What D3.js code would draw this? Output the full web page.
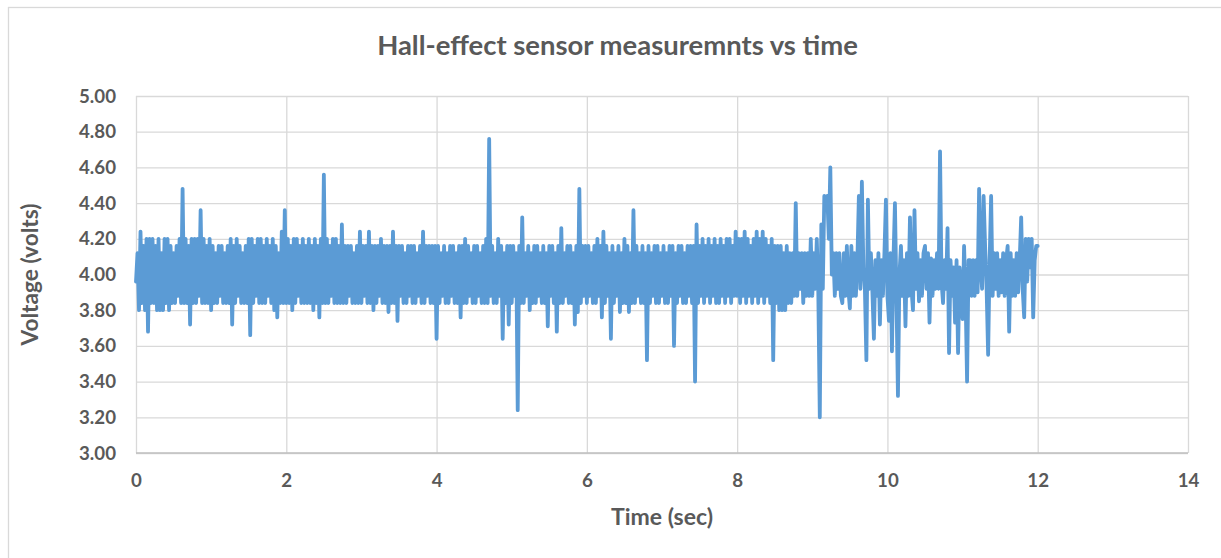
<!DOCTYPE html>
<html>
<head>
<meta charset="utf-8">
<script src="https://cdn.jsdelivr.net/npm/d3@7/dist/d3.min.js"></script>
<style>
  html, body { margin: 0; padding: 0; background: #ffffff; }
  svg { display: block; }
</style>
</head>
<body>
<script>
// ---------------- data ----------------
const chartTitle = "Hall-effect sensor measuremnts vs time";
const xAxisTitle = "Time (sec)";
const yAxisTitle = "Voltage (volts)";
const xTickValues = [0, 2, 4, 6, 8, 10, 12, 14];
const yTickValues = [3.00, 3.20, 3.40, 3.60, 3.80, 4.00, 4.20, 4.40, 4.60, 4.80, 5.00];
const sampleInterval = 0.02; // seconds between readings

// voltage readings, 0.00 s - 1.98 s
const volts0to2 = [
  3.96,4.12,3.80,4.24,3.84,4.16,3.80,4.20,3.68,4.20,
  3.84,4.20,3.84,4.16,3.80,4.20,3.80,4.12,3.80,4.20,
  3.84,4.20,3.80,4.16,3.84,4.12,3.84,4.16,3.88,4.20,
  3.84,4.48,3.84,4.20,3.84,4.16,3.72,4.20,3.84,4.20,
  3.84,4.20,3.88,4.36,3.84,4.20,3.84,4.16,3.84,4.20,
  3.80,4.16,3.84,4.12,3.84,4.16,3.88,4.16,3.84,4.12,
  3.84,4.16,3.84,4.20,3.72,4.16,3.84,4.20,3.88,4.16,
  3.84,4.12,3.84,4.16,3.84,4.20,3.66,4.20,3.84,4.16,
  3.88,4.20,3.84,4.20,3.84,4.16,3.84,4.20,3.88,4.16,
  3.84,4.20,3.80,4.16,3.76,4.12,3.84,4.24,3.84,4.36
];
// 2.00 s - 3.98 s
const volts2to4 = [
  3.84,4.20,3.84,4.16,3.80,4.20,3.84,4.20,3.88,4.16,
  3.84,4.20,3.84,4.16,3.84,4.20,3.84,4.16,3.80,4.20,
  3.84,4.16,3.76,4.20,3.84,4.56,3.84,4.20,3.84,4.16,
  3.88,4.20,3.84,4.20,3.84,4.16,3.84,4.28,3.84,4.16,
  3.84,4.16,3.88,4.16,3.84,4.12,3.84,4.16,3.84,4.24,
  3.84,4.16,3.88,4.16,3.84,4.24,3.84,4.16,3.80,4.16,
  3.84,4.16,3.88,4.20,3.84,4.16,3.84,4.16,3.79,4.16,
  3.84,4.24,3.84,4.16,3.74,4.16,3.88,4.16,3.84,4.12,
  3.84,4.16,3.88,4.16,3.84,4.16,3.84,4.12,3.88,4.16,
  3.84,4.24,3.84,4.16,3.88,4.16,3.84,4.16,3.84,4.16
];
// 4.00 s - 5.98 s
const volts4to6 = [
  3.64,4.16,3.84,4.12,3.88,4.16,3.84,4.12,3.84,4.16,
  3.88,4.16,3.84,4.12,3.84,4.16,3.76,4.16,3.84,4.20,
  3.84,4.16,3.88,4.12,3.84,4.16,3.84,4.16,3.88,4.12,
  3.84,4.16,3.84,4.20,3.84,4.76,3.88,4.16,3.84,4.12,
  3.84,4.20,3.88,4.16,3.64,4.12,3.84,4.16,3.72,4.16,
  3.84,4.16,3.88,4.12,3.24,4.16,3.84,4.32,3.84,4.12,
  3.88,4.16,3.80,4.12,3.84,4.16,3.84,4.16,3.88,4.12,
  3.84,4.16,3.84,4.12,3.71,4.16,3.88,4.16,3.84,4.12,
  3.68,4.16,3.84,4.26,3.84,4.12,3.88,4.16,3.84,4.16,
  3.84,4.12,3.72,4.16,3.79,4.48,3.84,4.16,3.88,4.16
];
// 6.00 s - 7.98 s
const volts6to8 = [
  3.84,4.16,3.88,4.12,3.84,4.16,3.84,4.20,3.88,4.16,
  3.76,4.24,3.84,4.16,3.88,4.12,3.64,4.16,3.84,4.12,
  3.88,4.16,3.79,4.12,3.84,4.20,3.84,4.16,3.79,4.12,
  3.84,4.36,3.84,4.16,3.88,4.12,3.84,4.16,3.84,4.12,
  3.52,4.16,3.84,4.12,3.88,4.16,3.84,4.16,3.84,4.12,
  3.88,4.16,3.84,4.12,3.84,4.16,3.88,4.16,3.60,4.12,
  3.84,4.16,3.88,4.16,3.84,4.12,3.84,4.16,3.88,4.16,
  3.84,4.16,3.40,4.28,3.84,4.16,3.88,4.20,3.84,4.16,
  3.88,4.20,3.84,4.16,3.88,4.20,3.84,4.16,3.84,4.20,
  3.88,4.16,3.84,4.20,3.88,4.20,3.84,4.16,3.88,4.24
];
// 8.00 s - 9.98 s
const volts8to10 = [
  3.88,4.20,3.84,4.20,3.88,4.24,3.84,4.20,3.88,4.16,
  3.84,4.20,3.88,4.24,3.84,4.20,3.88,4.24,3.84,4.20,
  3.88,4.16,3.84,4.20,3.52,4.16,3.84,4.16,3.80,4.16,
  3.80,4.12,3.80,4.16,3.84,4.12,3.84,4.12,3.88,4.40,
  3.88,4.12,3.92,4.12,3.84,4.12,3.88,4.12,3.88,4.20,
  3.88,4.12,3.92,4.20,3.90,3.20,4.28,3.92,4.44,4.36,
  4.44,4.20,4.60,4.00,4.12,3.88,4.12,3.92,4.12,3.88,
  3.84,4.12,3.88,4.16,3.92,3.81,4.16,3.88,4.12,3.88,
  4.08,4.44,3.92,4.52,4.04,3.92,3.52,4.42,3.92,4.12,
  3.90,3.64,4.08,3.88,4.12,3.72,4.08,3.88,4.12,4.42
];
// 10.00 s - 12.00 s
const volts10to12 = [
  3.88,3.74,4.12,3.57,4.08,4.40,3.88,3.32,4.00,4.16,
  3.88,4.08,3.71,4.12,3.88,4.32,3.92,3.80,4.36,3.92,
  4.12,3.85,4.08,3.88,4.12,4.16,3.92,4.12,3.73,4.09,
  3.88,4.08,3.92,4.12,3.92,4.69,3.96,3.84,4.08,3.92,
  4.26,3.56,4.08,3.88,4.04,3.73,4.08,3.56,4.04,3.92,
  3.75,4.16,3.88,3.40,4.08,4.08,3.88,4.08,3.88,4.08,
  3.90,4.48,4.04,3.92,4.44,4.16,3.92,3.55,4.08,4.44,
  3.88,4.12,3.92,4.12,3.88,4.08,3.90,4.12,3.88,4.08,
  4.16,3.68,4.12,3.88,4.08,3.88,4.12,3.90,4.08,4.32,
  3.92,3.76,4.20,3.96,4.20,4.04,4.20,3.76,4.08,4.16,
  4.16
];

const readings = [].concat(volts0to2, volts2to4, volts4to6, volts6to8, volts8to10, volts10to12)
  .map((v, i) => ({ t: i * sampleInterval, v: v }));

// ---------------- drawing ----------------
const W = 1221, H = 558;
const plotLeft = 136, plotRight = 1188, plotTop = 96, plotBottom = 453;
const textColor = "#595959";
const gridColor = "#d9d9d9";
const fontFamily = "Lato, 'Open Sans', 'Liberation Sans', sans-serif";

const svg = d3.select("body").append("svg")
  .attr("width", W).attr("height", H)
  .attr("viewBox", `0 0 ${W} ${H}`);

svg.append("rect").attr("width", W).attr("height", H).attr("fill", "#ffffff");
svg.append("rect")
  .attr("x", 8.5).attr("y", 7.5).attr("width", W + 20).attr("height", H + 20)
  .attr("fill", "none").attr("stroke", gridColor).attr("stroke-width", 1.3);

const x = d3.scaleLinear().domain([0, 14]).range([plotLeft, plotRight]);
const y = d3.scaleLinear().domain([3, 5]).range([plotBottom, plotTop]);

function fitWidth(sel, target) {
  const node = sel.node();
  const base = parseFloat(sel.attr("font-size"));
  const w = node.getComputedTextLength();
  if (w > 0) sel.attr("font-size", (base * target / w).toFixed(2));
}

// y axis with horizontal gridlines
const yAxis = svg.append("g")
  .attr("transform", `translate(${plotLeft},0)`)
  .call(d3.axisLeft(y).tickValues(yTickValues)
    .tickSize(-(plotRight - plotLeft)).tickPadding(20)
    .tickFormat(d3.format(".2f")));
yAxis.select(".domain").remove();
yAxis.selectAll(".tick line").attr("stroke", gridColor).attr("stroke-width", 1.3);
yAxis.selectAll(".tick text")
  .attr("fill", textColor).attr("font-family", fontFamily)
  .attr("font-weight", "bold").attr("font-size", 19);

// x axis with vertical gridlines
const xAxis = svg.append("g")
  .attr("transform", `translate(0,${plotBottom})`)
  .call(d3.axisBottom(x).tickValues(xTickValues)
    .tickSize(-(plotBottom - plotTop)).tickPadding(21)
    .tickFormat(d3.format("d")));
xAxis.select(".domain").remove();
xAxis.selectAll(".tick line").attr("stroke", gridColor).attr("stroke-width", 1.3);
xAxis.selectAll(".tick text")
  .attr("fill", textColor).attr("font-family", fontFamily)
  .attr("font-weight", "bold").attr("font-size", 19);

// size tick labels to match the reference ("5.00" ~37px wide)
{
  const sample = yAxis.selectAll(".tick text").filter(d => d === 5);
  const base = 19;
  const w = sample.node().getComputedTextLength();
  const fs = (base * 37 / w).toFixed(2);
  yAxis.selectAll(".tick text").attr("font-size", fs);
  xAxis.selectAll(".tick text").attr("font-size", fs);
}

// bottom axis line
svg.append("line")
  .attr("x1", plotLeft).attr("x2", plotRight)
  .attr("y1", y(3)).attr("y2", y(3))
  .attr("stroke", "#bfbfbf").attr("stroke-width", 1.6);

// data line
const line = d3.line().x(d => x(d.t)).y(d => y(d.v));
svg.append("path")
  .datum(readings)
  .attr("d", line)
  .attr("fill", "none")
  .attr("stroke", "#5b9bd5")
  .attr("stroke-width", 3.8)
  .attr("stroke-linejoin", "round")
  .attr("stroke-linecap", "round");

// title
const titleText = svg.append("text")
  .attr("x", 617.5).attr("y", 55)
  .attr("text-anchor", "middle")
  .attr("fill", textColor).attr("font-family", fontFamily)
  .attr("font-weight", "bold").attr("font-size", 25)
  .text(chartTitle);
fitWidth(titleText, 481);

// x axis title
const xTitle = svg.append("text")
  .attr("x", (plotLeft + plotRight) / 2).attr("y", 525)
  .attr("text-anchor", "middle")
  .attr("fill", textColor).attr("font-family", fontFamily)
  .attr("font-weight", "bold").attr("font-size", 19)
  .text(xAxisTitle);
fitWidth(xTitle, 102);

// y axis title
const yTitle = svg.append("text")
  .attr("transform", `translate(38,${(plotTop + plotBottom) / 2}) rotate(-90)`)
  .attr("text-anchor", "middle")
  .attr("fill", textColor).attr("font-family", fontFamily)
  .attr("font-weight", "bold").attr("font-size", 19)
  .text(yAxisTitle);
fitWidth(yTitle, 142);
</script>
</body>
</html>
